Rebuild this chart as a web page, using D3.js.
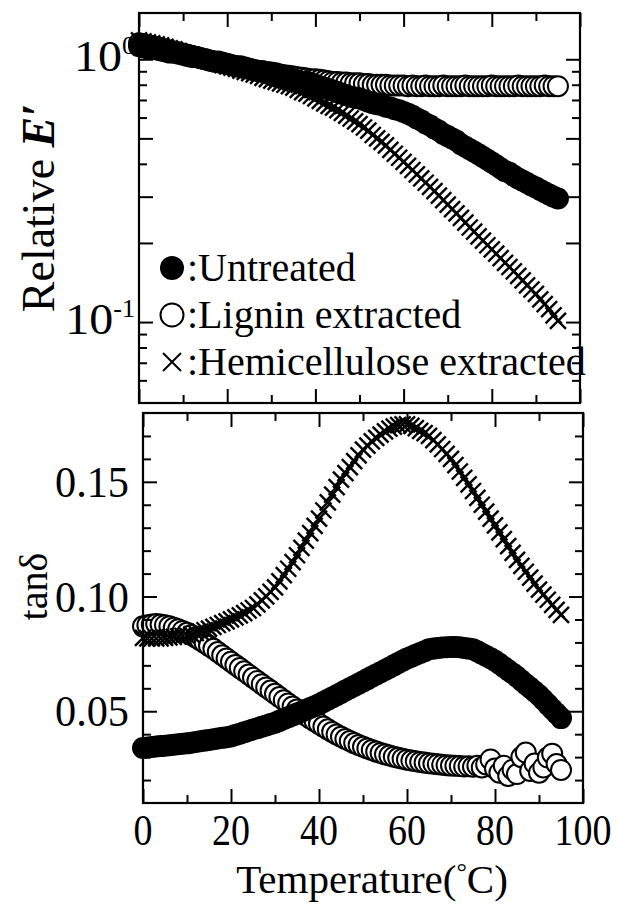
<!DOCTYPE html>
<html>
<head>
<meta charset="utf-8">
<script src="https://cdn.jsdelivr.net/npm/d3@7"></script>
<style>
  body { margin: 0; background: #fff; }
  svg { display: block; }
  text { font-family: "Liberation Serif", "Times New Roman", serif; fill: #000; }
</style>
</head>
<body>
<svg id="chart" width="620" height="904"></svg>
<script>
// Temperature (°C) of each measurement point
const temperature = [
  0, 1, 2, 3, 4, 5, 6, 7, 8, 9, 10, 11, 12, 13, 14, 15, 16, 17, 18, 19,
  20, 21, 22, 23, 24, 25, 26, 27, 28, 29, 30, 31, 32, 33, 34, 35, 36, 37, 38, 39,
  40, 41, 42, 43, 44, 45, 46, 47, 48, 49, 50, 51, 52, 53, 54, 55, 56, 57, 58, 59,
  60, 61, 62, 63, 64, 65, 66, 67, 68, 69, 70, 71, 72, 73, 74, 75, 76, 77, 78, 79,
  80, 81, 82, 83, 84, 85, 86, 87, 88, 89, 90, 91, 92, 93, 94, 95
];

// Relative storage modulus E'
const relEUntreated = [
  1.12, 1.11, 1.10, 1.10, 1.09, 1.08, 1.07, 1.06, 1.06, 1.05, 1.04, 1.03, 1.02, 1.02, 1.01, 1.00, 0.99, 0.98, 0.98, 0.97,
  0.96, 0.95, 0.94, 0.94, 0.93, 0.92, 0.91, 0.90, 0.90, 0.89, 0.88, 0.87, 0.86, 0.86, 0.85, 0.84, 0.83, 0.82, 0.82, 0.81,
  0.80, 0.79, 0.78, 0.77, 0.76, 0.75, 0.74, 0.73, 0.72, 0.715, 0.71, 0.70, 0.69, 0.68, 0.675, 0.67, 0.66, 0.655, 0.645, 0.64,
  0.63, 0.62, 0.61, 0.595, 0.585, 0.57, 0.56, 0.545, 0.535, 0.52, 0.51, 0.50, 0.49, 0.475, 0.465, 0.455, 0.445, 0.435, 0.425, 0.415,
  0.405, 0.395, 0.385, 0.375, 0.37, 0.36, 0.352, 0.345, 0.338, 0.331, 0.325, 0.318, 0.312, 0.306, 0.30, 0.295
];
const relELignin = [
  1.15, 1.14, 1.13, 1.12, 1.11, 1.10, 1.09, 1.08, 1.07, 1.06, 1.05, 1.04, 1.03, 1.02, 1.01, 1.00, 0.99, 0.98, 0.975, 0.965,
  0.96, 0.95, 0.94, 0.935, 0.925, 0.92, 0.91, 0.905, 0.90, 0.895, 0.89, 0.885, 0.875, 0.87, 0.865, 0.86, 0.855, 0.85, 0.845, 0.84,
  0.84, 0.835, 0.83, 0.825, 0.82, 0.82, 0.815, 0.815, 0.81, 0.81, 0.81, 0.805, 0.805, 0.80, 0.80, 0.80, 0.80, 0.795, 0.795, 0.795,
  0.795, 0.79, 0.795, 0.79, 0.79, 0.795, 0.79, 0.79, 0.79, 0.795, 0.79, 0.79, 0.79, 0.79, 0.795, 0.79, 0.79, 0.79, 0.79, 0.79,
  0.795, 0.79, 0.79, 0.79, 0.79, 0.79, 0.795, 0.79, 0.79, 0.79, 0.79, 0.79, 0.795, 0.79, 0.79, 0.79
];
const relEHemi = [
  1.18, 1.17, 1.16, 1.15, 1.14, 1.13, 1.115, 1.10, 1.09, 1.075, 1.06, 1.05, 1.035, 1.025, 1.01, 1.00, 0.99, 0.975, 0.965, 0.95,
  0.94, 0.93, 0.92, 0.905, 0.895, 0.885, 0.875, 0.865, 0.85, 0.84, 0.83, 0.82, 0.81, 0.80, 0.79, 0.78, 0.765, 0.75, 0.74, 0.725,
  0.71, 0.695, 0.68, 0.665, 0.655, 0.64, 0.625, 0.61, 0.595, 0.58, 0.567, 0.55, 0.535, 0.515, 0.50, 0.485, 0.47, 0.452, 0.437, 0.422,
  0.407, 0.393, 0.379, 0.365, 0.352, 0.339, 0.327, 0.315, 0.303, 0.291, 0.28, 0.269, 0.259, 0.249, 0.239, 0.229, 0.221, 0.212, 0.204, 0.196,
  0.189, 0.182, 0.175, 0.168, 0.162, 0.156, 0.150, 0.144, 0.138, 0.133, 0.128, 0.122, 0.117, 0.112, 0.106, 0.101
];

// Loss tangent tanδ
const tanUntreated = [
  0.0340, 0.0342, 0.0344, 0.0346, 0.0348, 0.0350, 0.0352, 0.0354, 0.0356, 0.0358, 0.0360, 0.0363, 0.0366, 0.0369, 0.0372, 0.0375, 0.0378, 0.0381, 0.0384, 0.0387,
  0.0390, 0.0396, 0.0402, 0.0408, 0.0414, 0.0420, 0.0426, 0.0432, 0.0438, 0.0444, 0.0450, 0.0458, 0.0466, 0.0474, 0.0482, 0.0490, 0.0498, 0.0506, 0.0514, 0.0522,
  0.0530, 0.0540, 0.0550, 0.0560, 0.0570, 0.0580, 0.0590, 0.0600, 0.0610, 0.0620, 0.0630, 0.0640, 0.0650, 0.0660, 0.0670, 0.0680, 0.0690, 0.0700, 0.0710, 0.0720,
  0.0730, 0.0738, 0.0746, 0.0754, 0.0762, 0.0770, 0.0773, 0.0776, 0.0778, 0.0779, 0.0780, 0.0780, 0.0779, 0.0776, 0.0773, 0.0770, 0.0761, 0.0751, 0.0741, 0.0731,
  0.0720, 0.0707, 0.0693, 0.0679, 0.0665, 0.0650, 0.0634, 0.0618, 0.0602, 0.0586, 0.0570, 0.0550, 0.0530, 0.0510, 0.0490, 0.0470
];
const tanLignin = [
  0.0870, 0.0875, 0.0878, 0.0880, 0.0878, 0.0875, 0.0870, 0.0864, 0.0857, 0.0850, 0.0842, 0.0832, 0.0822, 0.0810, 0.0798, 0.0785, 0.0772, 0.0758, 0.0744, 0.0730,
  0.0716, 0.0702, 0.0688, 0.0674, 0.0660, 0.0646, 0.0632, 0.0618, 0.0604, 0.0590, 0.0576, 0.0562, 0.0548, 0.0534, 0.0521, 0.0508, 0.0495, 0.0482, 0.0469, 0.0457,
  0.0445, 0.0433, 0.0421, 0.0410, 0.0399, 0.0389, 0.0379, 0.0370, 0.0361, 0.0353, 0.0345, 0.0338, 0.0331, 0.0324, 0.0318, 0.0312, 0.0307, 0.0302, 0.0297, 0.0293,
  0.0289, 0.0285, 0.0282, 0.0279, 0.0276, 0.0273, 0.0271, 0.0269, 0.0267, 0.0265, 0.0263, 0.0262, 0.0261, 0.0259, 0.0260, 0.0258, 0.0262, 0.0255, 0.0268, 0.0290,
  0.0250, 0.0232, 0.0262, 0.0218, 0.0245, 0.0226, 0.0300, 0.0320, 0.0240, 0.0272, 0.0232, 0.0255, 0.0298, 0.0315, 0.0270, 0.0244
];
const tanHemi = [
  0.0820, 0.0818, 0.0817, 0.0817, 0.0818, 0.0820, 0.0822, 0.0824, 0.0826, 0.0828, 0.0830, 0.0835, 0.0841, 0.0847, 0.0853, 0.0860, 0.0868, 0.0876, 0.0884, 0.0892,
  0.0900, 0.0909, 0.0918, 0.0928, 0.0939, 0.0950, 0.0966, 0.0983, 0.1001, 0.1020, 0.1040, 0.1066, 0.1093, 0.1121, 0.1150, 0.1180, 0.1212, 0.1244, 0.1276, 0.1308,
  0.1340, 0.1375, 0.1410, 0.1444, 0.1477, 0.1510, 0.1538, 0.1564, 0.1590, 0.1615, 0.1640, 0.1658, 0.1676, 0.1692, 0.1706, 0.1720, 0.1732, 0.1741, 0.1747, 0.1750,
  0.1750, 0.1744, 0.1734, 0.1722, 0.1712, 0.1700, 0.1682, 0.1663, 0.1643, 0.1622, 0.1600, 0.1573, 0.1545, 0.1517, 0.1489, 0.1460, 0.1430, 0.1400, 0.1370, 0.1340,
  0.1310, 0.1280, 0.1250, 0.1220, 0.1190, 0.1160, 0.1134, 0.1108, 0.1082, 0.1056, 0.1030, 0.1008, 0.0986, 0.0964, 0.0942, 0.0920
];

// Axis ticks and labels
const tempMajorTicks = [0, 20, 40, 60, 80, 100];
const tempMinorTicks = [10, 30, 50, 70, 90];
const logLongTicks = [0.1, 0.2, 0.3, 0.5, 1];
const logShortTicks = [0.06, 0.07, 0.08, 0.09, 0.4, 0.6, 0.7, 0.8, 0.9];
const logLabels = [{ v: 1, exp: "0" }, { v: 0.1, exp: "-1" }];
const tanMajorTicks = [0.05, 0.10, 0.15];
const tanMinorTicks = [0.02, 0.03, 0.04, 0.06, 0.07, 0.08, 0.09, 0.11, 0.12, 0.13, 0.14, 0.16, 0.17];
const legendLabels = [":Untreated", ":Lignin extracted", ":Hemicellulose extracted"];

const svg = d3.select("#chart");

const topPanel = { left: 139, right: 580, top: 13, bottom: 403 };
const botPanel = { left: 143, right: 583, top: 413, bottom: 803 };

const xTop = d3.scaleLinear().domain([0, 100]).range([topPanel.left, topPanel.right]);
const xBot = d3.scaleLinear().domain([0, 100]).range([botPanel.left, botPanel.right]);
const yTop = d3.scaleLog().domain([0.0492, 1.5]).range([topPanel.bottom, topPanel.top]);
const yBot = d3.scaleLinear().domain([0.01, 0.18]).range([botPanel.bottom, botPanel.top]);

const LONG = 14, SHORT = 8;

function inwardAxis(g, axisFn, scale, values, size, tx, ty) {
  g.append("g")
    .attr("transform", `translate(${tx},${ty})`)
    .call(axisFn(scale).tickValues(values).tickSize(-size).tickFormat(""))
    .call(a => a.select(".domain").remove())
    .call(a => a.selectAll(".tick line").attr("stroke", "#000").attr("stroke-width", 2));
}

function drawFrame(p, x, y, yLong, yShort) {
  const g = svg.append("g");
  inwardAxis(g, d3.axisBottom, x, tempMajorTicks, LONG, 0, p.bottom);
  inwardAxis(g, d3.axisBottom, x, tempMinorTicks, SHORT, 0, p.bottom);
  inwardAxis(g, d3.axisTop, x, tempMajorTicks, LONG, 0, p.top);
  inwardAxis(g, d3.axisTop, x, tempMinorTicks, SHORT, 0, p.top);
  inwardAxis(g, d3.axisLeft, y, yLong, LONG, p.left, 0);
  inwardAxis(g, d3.axisLeft, y, yShort, SHORT, p.left, 0);
  inwardAxis(g, d3.axisRight, y, yLong, LONG, p.right, 0);
  inwardAxis(g, d3.axisRight, y, yShort, SHORT, p.right, 0);
  g.append("rect")
    .attr("x", p.left).attr("y", p.top)
    .attr("width", p.right - p.left).attr("height", p.bottom - p.top)
    .attr("fill", "none").attr("stroke", "#000").attr("stroke-width", 2.2);
}

// Marker shapes
const R = 11;
const XS = 8;
function filledDots(g, xs, ys, pts) {
  g.selectAll(null).data(pts).join("circle")
    .attr("cx", d => xs(d[0])).attr("cy", d => ys(d[1])).attr("r", R)
    .attr("fill", "#000");
}
function openDots(g, xs, ys, pts) {
  g.selectAll(null).data(pts).join("circle")
    .attr("cx", d => xs(d[0])).attr("cy", d => ys(d[1])).attr("r", R - 1)
    .attr("fill", "#fff").attr("stroke", "#000").attr("stroke-width", 2);
}
function crosses(g, xs, ys, pts) {
  g.selectAll(null).data(pts).join("path")
    .attr("d", d => {
      const cx = xs(d[0]), cy = ys(d[1]);
      return `M${cx - XS},${cy - XS}L${cx + XS},${cy + XS}M${cx - XS},${cy + XS}L${cx + XS},${cy - XS}`;
    })
    .attr("fill", "none").attr("stroke", "#000").attr("stroke-width", 2.4);
}
const zip = vals => temperature.map((t, i) => [t, vals[i]]);

// ---- Top panel: relative E' (log scale)
const gTop = svg.append("g");
openDots(gTop, xTop, yTop, zip(relELignin));
filledDots(gTop, xTop, yTop, zip(relEUntreated));
crosses(gTop, xTop, yTop, zip(relEHemi));
drawFrame(topPanel, xTop, yTop, logLongTicks, logShortTicks);

// ---- Bottom panel: tanδ
const gBot = svg.append("g");
openDots(gBot, xBot, yBot, zip(tanLignin));
filledDots(gBot, xBot, yBot, zip(tanUntreated));
crosses(gBot, xBot, yBot, zip(tanHemi));
drawFrame(botPanel, xBot, yBot, tanMajorTicks, tanMinorTicks);

// ---- Tick labels (tall, narrow serif digits)
const FS = 44;
logLabels.forEach(l => {
  const t = svg.append("text")
    .attr("x", topPanel.left - 4).attr("y", yTop(l.v) + 12)
    .attr("text-anchor", "end").attr("font-size", FS);
  t.append("tspan").attr("textLength", 48).attr("lengthAdjust", "spacingAndGlyphs").text("10");
  t.append("tspan").attr("font-size", 26).attr("dy", -17).text(l.exp);
});
svg.append("g").selectAll("text").data(tanMajorTicks).join("text")
  .attr("x", botPanel.left - 14).attr("y", d => yBot(d) + 15)
  .attr("text-anchor", "end").attr("font-size", FS)
  .attr("textLength", 74).attr("lengthAdjust", "spacingAndGlyphs")
  .text(d => d3.format(".2f")(d));
svg.append("g").selectAll("text").data(tempMajorTicks).join("text")
  .attr("x", d => xBot(d)).attr("y", 845)
  .attr("text-anchor", "middle").attr("font-size", FS)
  .attr("textLength", d => String(d).length * 19).attr("lengthAdjust", "spacingAndGlyphs")
  .text(d => d);

// ---- Axis titles
const yTitle = svg.append("text")
  .attr("transform", `translate(54,${(topPanel.top + topPanel.bottom) / 2}) rotate(-90)`)
  .attr("text-anchor", "middle").attr("font-size", 46);
yTitle.append("tspan").text("Relative ");
yTitle.append("tspan").attr("font-style", "italic").attr("font-weight", "bold").text("E′");

svg.append("text")
  .attr("transform", `translate(47,${yBot(0.10) - 10}) rotate(-90)`)
  .attr("text-anchor", "middle").attr("font-size", 40)
  .text("tanδ");

const xTitle = svg.append("text")
  .attr("x", 372).attr("y", 893)
  .attr("text-anchor", "middle").attr("font-size", 41);
xTitle.append("tspan").text("Temperature(");
xTitle.append("tspan").attr("font-size", 26).attr("dy", -13).text("°");
xTitle.append("tspan").attr("dy", 13).text("C)");

// ---- Legend
const legendY = [268, 315, 362];
const legendX = 172;
const lg = svg.append("g");
lg.append("circle").attr("cx", legendX).attr("cy", legendY[0]).attr("r", 12).attr("fill", "#000");
lg.append("circle").attr("cx", legendX).attr("cy", legendY[1]).attr("r", 11.5).attr("fill", "#fff")
  .attr("stroke", "#000").attr("stroke-width", 2);
lg.append("path")
  .attr("d", `M${legendX - 9},${legendY[2] - 9}L${legendX + 9},${legendY[2] + 9}M${legendX - 9},${legendY[2] + 9}L${legendX + 9},${legendY[2] - 9}`)
  .attr("stroke", "#000").attr("stroke-width", 2).attr("fill", "none");
lg.selectAll("text").data(legendLabels).join("text")
  .attr("x", legendX + 15).attr("y", (d, i) => legendY[i] + 13)
  .attr("font-size", 40)
  .text(d => d);
</script>
</body>
</html>
